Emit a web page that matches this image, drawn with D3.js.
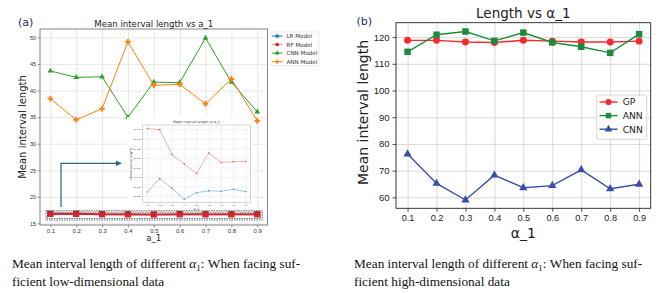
<!DOCTYPE html>
<html lang="en">
<head>
<meta charset="utf-8">
<script src="https://d3js.org/d3.v7.min.js"></script>
<style>
  body { margin: 0; background: #fff; }
  svg { display: block; }
  .sans { font-family: "DejaVu Sans", sans-serif; }
  .serif { font-family: "Liberation Serif", serif; }
</style>
</head>
<body>
<script>
// ---------- data ----------
var alphas = [0.1, 0.2, 0.3, 0.4, 0.5, 0.6, 0.7, 0.8, 0.9];

// panel (a): low-dimensional data
var lrModel  = [16.636, 16.671, 16.646, 16.617, 16.634, 16.639, 16.638, 16.643, 16.637];
var rfModel  = [16.802, 16.799, 16.734, 16.709, 16.684, 16.738, 16.713, 16.715, 16.716];
var cnnModel = [43.7, 42.5, 42.6, 35.0, 41.6, 41.5, 49.9, 41.6, 36.0];
var annModel = [38.5, 34.5, 36.6, 49.2, 41.0, 41.2, 37.5, 42.2, 34.3];
var yTicksA = [15, 20, 25, 30, 35, 40, 45, 50];
var insetTicks = [16.625, 16.65, 16.675, 16.7, 16.725, 16.75, 16.775, 16.8];

// panel (b): high-dimensional data
var gpB  = [118.8, 118.8, 118.2, 118.0, 118.8, 118.5, 118.2, 118.2, 118.5];
var annB = [114.5, 120.9, 122.1, 118.6, 121.7, 118.0, 116.4, 114.1, 121.1];
var cnnB = [76.2, 65.2, 59.0, 68.3, 63.6, 64.4, 70.3, 63.2, 64.9];
var yTicksB = [60, 70, 80, 90, 100, 110, 120];

var svg = d3.select("body").append("svg")
    .attr("width", 659)
    .attr("height", 293);

function drawSeries(g, x, y, vals, color, lw, symType, symSize, opacity) {
    var pts = alphas.map(function(a, i) { return [a, vals[i]]; });
    g.append("path")
        .datum(pts)
        .attr("fill", "none")
        .attr("stroke", color)
        .attr("stroke-width", lw)
        .attr("stroke-opacity", opacity || 1)
        .attr("d", d3.line().x(function(d) { return x(d[0]); }).y(function(d) { return y(d[1]); }));
    g.selectAll(null)
        .data(pts)
        .enter()
        .append("path")
        .attr("transform", function(d) { return "translate(" + x(d[0]) + "," + y(d[1]) + ")"; })
        .attr("d", d3.symbol().type(symType).size(symSize))
        .attr("fill", color)
        .attr("fill-opacity", opacity || 1);
}

// ================= panel (a) =================
var xA = d3.scaleLinear().domain([0.06, 0.94]).range([40, 267.6]);
var yA = d3.scaleLinear().domain([14.7, 51.6]).range([225, 29]);
var gA = svg.append("g").attr("class", "sans");

// grid
gA.append("g")
    .attr("transform", "translate(0,225)")
    .call(d3.axisBottom(xA).tickValues(alphas).tickSize(-196).tickFormat(""))
    .call(function(g) {
        g.select(".domain").remove();
        g.selectAll("line").attr("stroke", "#e2e2e2").attr("stroke-width", 0.8);
    });
gA.append("g")
    .attr("transform", "translate(40,0)")
    .call(d3.axisLeft(yA).tickValues(yTicksA).tickSize(-227.6).tickFormat(""))
    .call(function(g) {
        g.select(".domain").remove();
        g.selectAll("line").attr("stroke", "#e2e2e2").attr("stroke-width", 0.8);
    });

// axes
gA.append("g")
    .attr("transform", "translate(0,225)")
    .call(d3.axisBottom(xA).tickValues(alphas).tickSize(2.5).tickPadding(1.5).tickFormat(d3.format(".1f")))
    .call(function(g) {
        g.select(".domain").remove();
        g.selectAll("line").attr("stroke", "#555").attr("stroke-width", 0.6);
        g.selectAll("text").attr("font-size", 6).attr("fill", "#333");
    });
gA.append("g")
    .attr("transform", "translate(40,0)")
    .call(d3.axisLeft(yA).tickValues(yTicksA).tickSize(2.5).tickPadding(1.5))
    .call(function(g) {
        g.select(".domain").remove();
        g.selectAll("line").attr("stroke", "#555").attr("stroke-width", 0.6);
        g.selectAll("text").attr("font-size", 5.5).attr("fill", "#333");
    });
gA.append("rect")
    .attr("x", 40).attr("y", 29).attr("width", 227.6).attr("height", 196)
    .attr("fill", "none").attr("stroke", "#666").attr("stroke-width", 0.8);

// series
drawSeries(gA, xA, yA, lrModel, "#1f77b4", 1, d3.symbolStar, 10);
drawSeries(gA, xA, yA, rfModel, "#d62728", 2, d3.symbolSquare, 40);
drawSeries(gA, xA, yA, cnnModel, "#2ca02c", 1, d3.symbolTriangle, 14);
drawSeries(gA, xA, yA, annModel, "#ff7f0e", 1, d3.symbolCross, 18);

// dashed box around LR / RF
[[46, 210.7, 216.3, 9.3], [47.5, 212.2, 213.3, 6.3]].forEach(function(r) {
    gA.append("rect")
        .attr("x", r[0]).attr("y", r[1]).attr("width", r[2]).attr("height", r[3])
        .attr("fill", "none").attr("stroke", "#2b3a4a").attr("stroke-width", 0.7)
        .attr("stroke-dasharray", "1.5,1");
});

// arrow
svg.append("defs").append("marker")
    .attr("id", "ah").attr("viewBox", "0 0 10 10").attr("refX", 9).attr("refY", 5)
    .attr("markerWidth", 5).attr("markerHeight", 5).attr("orient", "auto")
    .append("path").attr("d", "M0,0L10,5L0,10z").attr("fill", "#2d6485");
gA.append("path")
    .attr("d", "M61,207 L61,163.3 L121,163.3")
    .attr("fill", "none").attr("stroke", "#2d6485").attr("stroke-width", 1.2)
    .attr("marker-end", "url(#ah)");

// inset
var xI = d3.scaleLinear().domain([0.06, 0.94]).range([142.4, 250.6]);
var yI = d3.scaleLinear().domain([16.608, 16.811]).range([202.7, 125]);
var gI = gA.append("g");
gI.append("rect").attr("x", 127).attr("y", 117).attr("width", 125).attr("height", 93).attr("fill", "#fff");
gI.append("g")
    .attr("transform", "translate(0,202.7)")
    .call(d3.axisBottom(xI).tickValues(alphas).tickSize(-77.7).tickFormat(""))
    .call(function(g) {
        g.select(".domain").remove();
        g.selectAll("line").attr("stroke", "#e6e6e6").attr("stroke-width", 0.5);
    });
gI.append("g")
    .attr("transform", "translate(142.4,0)")
    .call(d3.axisLeft(yI).tickValues(insetTicks).tickSize(-108.2).tickFormat(""))
    .call(function(g) {
        g.select(".domain").remove();
        g.selectAll("line").attr("stroke", "#e6e6e6").attr("stroke-width", 0.5);
    });
gI.append("g")
    .attr("transform", "translate(0,202.7)")
    .call(d3.axisBottom(xI).tickValues(alphas).tickSize(1).tickPadding(0.8).tickFormat(d3.format(".1f")))
    .call(function(g) {
        g.select(".domain").remove();
        g.selectAll("line").attr("stroke", "#666").attr("stroke-width", 0.3);
        g.selectAll("text").attr("font-size", 2.4).attr("fill", "#444");
    });
gI.append("g")
    .attr("transform", "translate(142.4,0)")
    .call(d3.axisLeft(yI).tickValues(insetTicks).tickSize(1).tickPadding(0.8).tickFormat(d3.format(".3f")))
    .call(function(g) {
        g.select(".domain").remove();
        g.selectAll("line").attr("stroke", "#666").attr("stroke-width", 0.3);
        g.selectAll("text").attr("font-size", 2.4).attr("fill", "#444");
    });
gI.append("rect")
    .attr("x", 142.4).attr("y", 125).attr("width", 108.2).attr("height", 77.7)
    .attr("fill", "none").attr("stroke", "#999").attr("stroke-width", 0.4);
drawSeries(gI, xI, yI, rfModel, "#d62728", 0.6, d3.symbolSquare, 2, 0.6);
drawSeries(gI, xI, yI, lrModel, "#1f77b4", 0.6, d3.symbolCircle, 2, 0.7);
gI.append("text").attr("x", 196.5).attr("y", 123).attr("text-anchor", "middle")
    .attr("font-size", 3.4).attr("fill", "#333").text("Mean interval length vs a_1");
gI.append("text").attr("x", 196.5).attr("y", 209.5).attr("text-anchor", "middle")
    .attr("font-size", 3).attr("fill", "#333").text("a_1");
gI.append("text").attr("transform", "translate(131.5,164) rotate(-90)").attr("text-anchor", "middle")
    .attr("font-size", 3).attr("fill", "#333").text("Mean interval length");

// titles / labels (a)
gA.append("text").attr("x", 153.8).attr("y", 26.5).attr("text-anchor", "middle")
    .attr("font-size", 8.6).attr("fill", "#222").text("Mean interval length vs a_1");
gA.append("text").attr("x", 153.8).attr("y", 241).attr("text-anchor", "middle")
    .attr("font-size", 8.6).attr("fill", "#222").text("a_1");
gA.append("text").attr("transform", "translate(25.5,127) rotate(-90)").attr("text-anchor", "middle")
    .attr("font-size", 10).attr("fill", "#222").text("Mean interval length");
gA.append("text").attr("x", 18).attr("y", 25.5)
    .attr("font-size", 11).attr("fill", "#1c2a6a").text("(a)");

// legend (a)
var legA = [
    {name: "LR Model", color: "#1f77b4", sym: d3.symbolStar, size: 10},
    {name: "RF Model", color: "#d62728", sym: d3.symbolSquare, size: 10},
    {name: "CNN Model", color: "#2ca02c", sym: d3.symbolTriangle, size: 10},
    {name: "ANN Model", color: "#ff7f0e", sym: d3.symbolCross, size: 10}
];
gA.append("rect").attr("x", 270.7).attr("y", 32).attr("width", 48.3).attr("height", 33.7)
    .attr("rx", 1.5).attr("fill", "#fff").attr("stroke", "#ddd").attr("stroke-width", 0.6);
legA.forEach(function(d, i) {
    var ly = 36 + i * 8.55;
    gA.append("line").attr("x1", 272).attr("x2", 282.5).attr("y1", ly).attr("y2", ly)
        .attr("stroke", d.color).attr("stroke-width", 1).attr("stroke-opacity", i === 1 ? 0.5 : 1);
    gA.append("path").attr("transform", "translate(277.2," + ly + ")")
        .attr("d", d3.symbol().type(d.sym).size(d.size)()).attr("fill", d.color);
    gA.append("text").attr("x", 286.5).attr("y", ly + 2).attr("font-size", 5.6)
        .attr("fill", "#333").text(d.name);
});

// ================= panel (b) =================
var xB = d3.scaleLinear().domain([0.06, 0.94]).range([396, 650.7]);
var yB = d3.scaleLinear().domain([55.9, 125.4]).range([208.3, 22.7]);
var gB = svg.append("g").attr("class", "sans");

gB.append("g")
    .attr("transform", "translate(0,208.3)")
    .call(d3.axisBottom(xB).tickValues(alphas).tickSize(-185.6).tickFormat(""))
    .call(function(g) {
        g.select(".domain").remove();
        g.selectAll("line").attr("stroke", "#cfcfcf").attr("stroke-width", 0.8);
    });
gB.append("g")
    .attr("transform", "translate(396,0)")
    .call(d3.axisLeft(yB).tickValues(yTicksB).tickSize(-254.7).tickFormat(""))
    .call(function(g) {
        g.select(".domain").remove();
        g.selectAll("line").attr("stroke", "#cfcfcf").attr("stroke-width", 0.8);
    });
gB.append("g")
    .attr("transform", "translate(0,208.3)")
    .call(d3.axisBottom(xB).tickValues(alphas).tickSize(3.5).tickPadding(3).tickFormat(d3.format(".1f")))
    .call(function(g) {
        g.select(".domain").remove();
        g.selectAll("line").attr("stroke", "#222").attr("stroke-width", 0.8);
        g.selectAll("text").attr("font-size", 9.2).attr("fill", "#222");
    });
gB.append("g")
    .attr("transform", "translate(396,0)")
    .call(d3.axisLeft(yB).tickValues(yTicksB).tickSize(3.5).tickPadding(3))
    .call(function(g) {
        g.select(".domain").remove();
        g.selectAll("line").attr("stroke", "#222").attr("stroke-width", 0.8);
        g.selectAll("text").attr("font-size", 9.5).attr("fill", "#222");
    });
gB.append("rect")
    .attr("x", 396).attr("y", 22.7).attr("width", 254.7).attr("height", 185.6)
    .attr("fill", "none").attr("stroke", "#222").attr("stroke-width", 0.9);

drawSeries(gB, xB, yB, gpB, "#f52a2a", 1.4, d3.symbolCircle, 38);
drawSeries(gB, xB, yB, annB, "#1d8a3c", 1.4, d3.symbolSquare, 42);
drawSeries(gB, xB, yB, cnnB, "#3a4fa8", 1.4, d3.symbolTriangle, 30);

gB.append("text").attr("x", 523.3).attr("y", 18).attr("text-anchor", "middle")
    .attr("font-size", 13.5).attr("fill", "#222").text("Length vs \u03b1_1");
gB.append("text").attr("x", 523.3).attr("y", 238).attr("text-anchor", "middle")
    .attr("font-size", 14).attr("fill", "#222").text("\u03b1_1");
gB.append("text").attr("transform", "translate(368,112.5) rotate(-90)").attr("text-anchor", "middle")
    .attr("font-size", 14).attr("fill", "#222").text("Mean interval length");
gB.append("text").attr("x", 356.5).attr("y", 25)
    .attr("font-size", 11).attr("fill", "#1c2a6a").text("(b)");

var legB = [
    {name: "GP", color: "#f52a2a", sym: d3.symbolCircle, size: 30},
    {name: "ANN", color: "#1d8a3c", sym: d3.symbolSquare, size: 30},
    {name: "CNN", color: "#3a4fa8", sym: d3.symbolTriangle, size: 26}
];
gB.append("rect").attr("x", 596.7).attr("y", 95).attr("width", 50).attr("height", 44.3)
    .attr("rx", 2).attr("fill", "#fff").attr("fill-opacity", 0.85).attr("stroke", "#ccc").attr("stroke-width", 0.8);
legB.forEach(function(d, i) {
    var ly = 102 + i * 13.6;
    gB.append("line").attr("x1", 599.5).attr("x2", 617.5).attr("y1", ly).attr("y2", ly)
        .attr("stroke", d.color).attr("stroke-width", 1.4);
    gB.append("path").attr("transform", "translate(608.5," + ly + ")")
        .attr("d", d3.symbol().type(d.sym).size(d.size)()).attr("fill", d.color);
    gB.append("text").attr("x", 622.7).attr("y", ly + 3.3).attr("font-size", 9.2)
        .attr("fill", "#222").text(d.name);
});

// ================= captions =================
function caption(x, ending) {
    var t = svg.append("text").attr("class", "serif").attr("x", x).attr("y", 268)
        .attr("font-size", 13.3).attr("fill", "#111");
    t.append("tspan").text("Mean interval length of different ");
    t.append("tspan").attr("font-style", "italic").text("\u03b1");
    t.append("tspan").attr("font-size", 9).attr("dy", 2.8).text("1");
    t.append("tspan").attr("dy", -2.8).text(": When facing suf-");
    svg.append("text").attr("class", "serif").attr("x", x).attr("y", 286)
        .attr("font-size", 13.3).attr("fill", "#111").text(ending);
}
caption(12, "ficient low-dimensional data");
caption(354, "ficient high-dimensional data");
</script>
</body>
</html>
